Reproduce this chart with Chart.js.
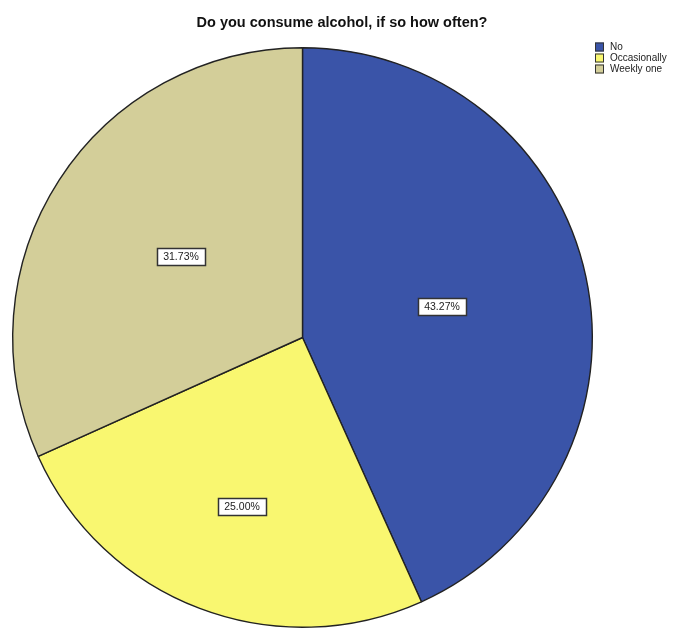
<!DOCTYPE html>
<html>
<head>
<meta charset="utf-8">
<script src="https://cdn.jsdelivr.net/npm/chart.js@4.4.1/dist/chart.umd.min.js"></script>
<style>
  body { margin: 0; background: #fff; }
  #wrap { width: 686px; height: 635px; position: relative; }
</style>
</head>
<body>
<div id="wrap"><canvas id="alcoholChart"></canvas></div>
<script>
// answer categories and their share of respondents (%)
const categories = ['No', 'Occasionally', 'Weekly one'];
const percents = [43.27, 25.00, 31.73];
const sliceColors = ['#3a54a8', '#f9f770', '#d3ce99'];

// where each % box sits, as a fraction of the radius from the centre
const labelSpots = [[0.48, -0.11], [-0.21, 0.58], [-0.42, -0.28]];

const titleText = 'Do you consume alcohol, if so how often?';

// title, legend and the boxed % labels
const extras = {
  id: 'extras',
  afterDraw(chart) {
    const ctx = chart.ctx;
    ctx.save();

    ctx.fillStyle = '#111';
    ctx.font = 'bold 14.5px "Liberation Sans", Arial, sans-serif';
    ctx.textAlign = 'center';
    ctx.textBaseline = 'middle';
    ctx.fillText(titleText, 342, 23);

    // legend top-right
    ctx.font = '10px "Liberation Sans", Arial, sans-serif';
    ctx.textAlign = 'left';
    categories.forEach((c, i) => {
      const y = 47 + i * 11;
      ctx.fillStyle = sliceColors[i];
      ctx.fillRect(595, y - 4.5, 9, 9);
      ctx.strokeStyle = '#333';
      ctx.lineWidth = 1;
      ctx.strokeRect(595.5, y - 4, 8, 8);
      ctx.fillStyle = '#222';
      ctx.fillText(c, 610, y + 0.5);
    });

    // value boxes
    const meta = chart.getDatasetMeta(0);
    ctx.font = '10.5px "Liberation Sans", Arial, sans-serif';
    ctx.textAlign = 'center';
    meta.data.forEach((arc, i) => {
      const r = arc.outerRadius;
      const x = Math.round(arc.x + labelSpots[i][0] * r);
      const y = Math.round(arc.y + labelSpots[i][1] * r);
      const txt = percents[i].toFixed(2) + '%';
      const w = Math.round(ctx.measureText(txt).width + 12);
      const h = 17;
      const left = Math.round(x - w / 2);
      const top = Math.round(y - h / 2);
      ctx.fillStyle = '#fff';
      ctx.fillRect(left, top, w, h);
      ctx.strokeStyle = '#333';
      ctx.lineWidth = 1.5;
      ctx.strokeRect(left + 0.5, top + 0.5, w, h);
      ctx.fillStyle = '#222';
      ctx.fillText(txt, x, y + 1);
    });

    ctx.restore();
  }
};

const ctx = document.getElementById('alcoholChart').getContext('2d');
new Chart(ctx, {
  type: 'pie',
  data: {
    labels: categories,
    datasets: [{
      data: percents,
      backgroundColor: sliceColors,
      borderColor: '#222',
      borderWidth: 1.4
    }]
  },
  options: {
    responsive: true,
    maintainAspectRatio: false,
    animation: false,
    layout: { padding: { left: 12, right: 93, top: 46, bottom: 6 } },
    plugins: {
      legend: { display: false },
      title: { display: false },
      tooltip: { enabled: false }
    }
  },
  plugins: [extras]
});
</script>
</body>
</html>
